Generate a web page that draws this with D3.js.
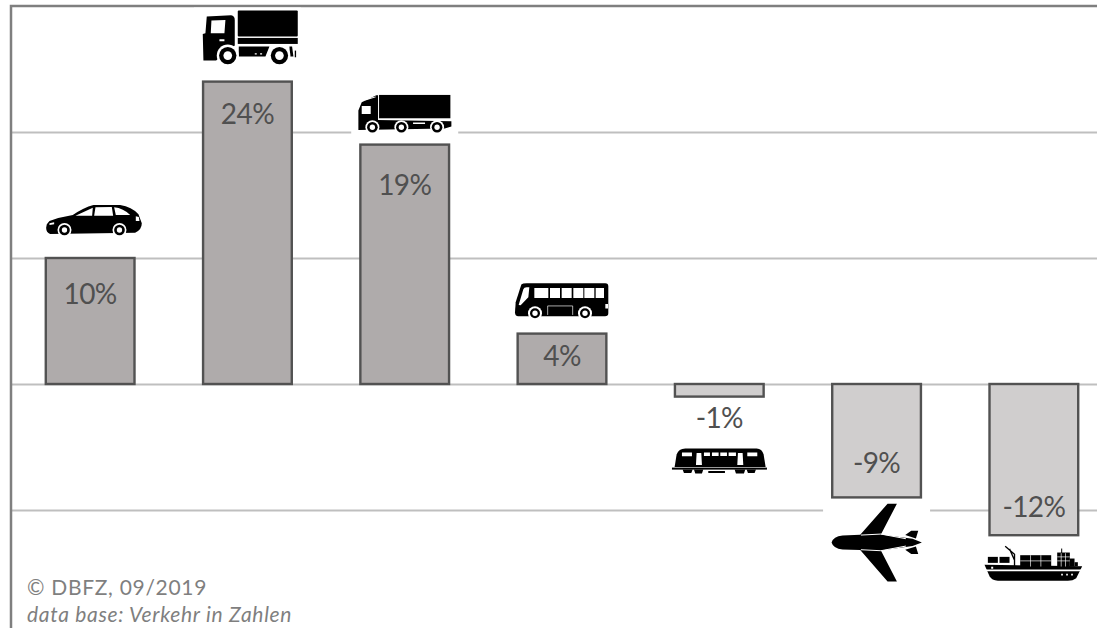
<!DOCTYPE html>
<html>
<head>
<meta charset="utf-8">
<script src="https://cdn.jsdelivr.net/npm/d3@7"></script>
<style>
  html, body { margin: 0; padding: 0; background: #fff; }
  svg { display: block; }
  text { font-family: Lato, "Open Sans", sans-serif; }
</style>
</head>
<body>
<div id="chart"></div>
<script>
// Change in transport modes, in percent
const categories = ["car", "truck", "lorry", "bus", "train", "plane", "ship"];
const values = [10, 24, 19, 4, -1, -9, -12];
const gridTicks = [-10, 0, 10, 20];
const sourceLines = ["© DBFZ, 09/2019", "data base: Verkehr in Zahlen"];

// Label baseline and icon edge, as pixel distance from the free end of each bar
const labelOffsets = [46, 42, 50, 32, 31, -24, -18];
const iconGaps = [21, 18, 12, 15, 49, 6, 8];
const iconHeights = [34, 56, 46, 36, 30, 78, 38];

// Vehicle silhouettes, drawn at 3x and scaled down; origin given by ox / oy
const icons = {
  car: { ox: 180, oy: 126, art: `
    <path d="M50,88 L58,78 Q90,66 128,60 Q160,38 190,30 L270,30 Q305,35 325,58 L335,85 Q335,105 315,113 L60,117 Q48,112 48,98 Z"/>
    <path fill="#fff" d="M136,62 L188,38 L186,62 Z M196,37 L245,36 L249,62 L192,62 Z M252,37 Q280,40 300,60 L257,60 Z M317,64 L326,66 L328,78 L317,78 Z M58,85 L72,82 L72,88 L58,90 Z"/>
    <circle cx="103" cy="105" r="21" fill="#fff"/><circle cx="103" cy="105" r="16"/><circle cx="103" cy="105" r="8" fill="#fff"/>
    <circle cx="268" cy="105" r="21" fill="#fff"/><circle cx="268" cy="105" r="16"/><circle cx="268" cy="105" r="8" fill="#fff"/>` },
  truck: { ox: 174, oy: 189, art: `
    <path d="M52,48 L125,44 Q136,46 136,58 L136,135 L80,180 L42,180 L40,100 L48,98 Z"/>
    <rect x="145" y="30" width="180" height="78" rx="3"/>
    <rect x="145" y="112" width="180" height="18"/>
    <path d="M148,138 L240,138 L228,168 L148,168 Z M300,138 L308,138 L312,168 L302,168 Z"/>
    <path fill="#fff" d="M66,60 L108,58 L105,98 L64,98 Z M90,116 L105,116 L105,122 L90,122 Z M196,158 h6 v4 h-6 Z M212,158 h6 v4 h-6 Z"/>
    <circle cx="115" cy="165" r="33" fill="#fff"/><circle cx="115" cy="165" r="26"/><circle cx="115" cy="165" r="13" fill="#fff"/>
    <circle cx="270" cy="165" r="33" fill="#fff"/><circle cx="270" cy="165" r="26"/><circle cx="270" cy="165" r="13" fill="#fff"/>
    <rect x="316" y="150" width="4" height="20"/>` },
  lorry: { ox: 1215, oy: 396, art: `
    <path d="M1076,330 L1086,305 L1130,284 L1135,284 L1135,358 L1355,362 L1355,378 L1335,384 L1076,388 Z"/>
    <rect x="1138" y="283" width="214" height="70"/>
    <path fill="#fff" d="M1086,316 L1113,316 L1113,340 L1086,340 Z M1097,295 L1128,288 L1128,290 L1097,300 Z M1240,366 h36 v4 h-36 Z"/>
    <circle cx="1118" cy="380" r="21" fill="#fff"/><circle cx="1118" cy="380" r="16"/><circle cx="1118" cy="380" r="8" fill="#fff"/>
    <circle cx="1205" cy="380" r="21" fill="#fff"/><circle cx="1205" cy="380" r="16"/><circle cx="1205" cy="380" r="8" fill="#fff"/>
    <circle cx="1312" cy="380" r="21" fill="#fff"/><circle cx="1312" cy="380" r="16"/><circle cx="1312" cy="380" r="8" fill="#fff"/>` },
  bus: { ox: 186, oy: 144, art: `
    <path d="M64,42 Q68,38 80,38 L316,38 Q325,38 325,48 L325,128 Q325,137 315,137 L55,137 Q45,137 45,125 L47,95 Z"/>
    <path fill="#fff" d="M103,52 H145 V82 H103 Z M150,52 H180 V82 H150 Z M185,52 H215 V82 H185 Z M220,52 H250 V82 H220 Z M253,52 H283 V82 H253 Z M287,52 H312 V82 H287 Z M56,103 L70,56 Q72,50 80,50 L88,50 L85,80 L62,104 Z M316,100 h8 v14 h-8 Z"/>
    <path fill="none" stroke="#fff" stroke-width="2" d="M143,133 V106 H218 V133"/>
    <circle cx="105" cy="128" r="21" fill="#fff"/><circle cx="105" cy="128" r="15"/><circle cx="105" cy="128" r="8" fill="#fff"/>
    <circle cx="255" cy="128" r="21" fill="#fff"/><circle cx="255" cy="128" r="15"/><circle cx="255" cy="128" r="8" fill="#fff"/>` },
  train: { ox: 658, oy: 618, art: `
    <path d="M524,592 L530,555 Q536,537 556,537 L770,537 Q786,537 791,555 L797,592 Z"/>
    <rect x="516" y="594" width="285" height="6"/>
    <path d="M548,600 h30 l-4,10 h-22 Z M582,600 h28 l-4,12 h-20 Z M704,600 h32 l-4,12 h-24 Z M740,600 h28 l-4,10 h-20 Z M625,604 h50 v6 h-50 Z"/>
    <path fill="#fff" d="M546,549 H576 V560 H546 Z M612,549 H630 V559 H612 Z M636,549 H656 V559 H636 Z M661,549 H681 V559 H661 Z M686,549 H708 V559 H686 Z M742,549 H772 V560 H742 Z M590,550 H604 L606,586 H588 Z M714,550 H728 L730,586 H712 Z"/>` },
  plane: { ox: 232, oy: 633, art: `
    <path d="M97,516 Q102,498 130,495 L183,493 L265,400 L293,400 L245,492 L340,505 L368,516 L340,527 L245,540 L293,633 L265,633 L183,539 L130,537 Q102,534 97,516 Z"/>
    <path d="M318,494 L336,481 L357,481 L350,504 Z M318,538 L336,551 L357,551 L350,528 Z"/>
    <path fill="none" stroke="#fff" stroke-width="3" d="M185,494 L245,491 L320,505 M185,538 L245,541 L320,527"/>` },
  ship: { ox: 698, oy: 633, art: `
    <path d="M550,584 L843,588 L825,624 Q815,632 800,632 L590,632 Q572,630 565,618 Z"/>
    <path fill="none" stroke="#000" stroke-width="4" d="M612,528 L640,552 L640,590 M625,536 L640,570"/>
    <rect x="560" y="560" width="30" height="18"/><rect x="595" y="560" width="30" height="18"/>
    <rect x="657" y="555" width="93" height="34"/>
    <rect x="768" y="547" width="38" height="42"/><rect x="806" y="565" width="14" height="24"/><rect x="820" y="576" width="10" height="12"/>
    <rect x="780" y="535" width="3" height="14"/>
    <path fill="none" stroke="#fff" stroke-width="2" d="M657,572 H750 M688,555 V589 M719,555 V589 M768,560 H806 M768,572 H806 M780,549 V589 M793,549 V589"/>
    <path fill="#fff" d="M552,598 H843 V603 H552 Z M780,611 h5 v5 h-5 Z M795,611 h5 v5 h-5 Z M810,611 h5 v5 h-5 Z M570,590 h6 v6 h-6 Z"/>` }
};

const width = 1097, height = 628;
const svg = d3.select("#chart").append("svg").attr("width", width).attr("height", height);

// The plot runs a little past the right side of the page
const x = d3.scaleBand().domain(categories).range([11.5, 1112.5]).paddingInner(0.436).paddingOuter(0.218);
const y = d3.scaleLinear().domain([0, 10]).range([384, 258]);
const value = c => values[categories.indexOf(c)];

// Horizontal gridlines
const grid = svg.append("g")
  .attr("transform", `translate(${x.range()[0]},0)`)
  .call(d3.axisLeft(y).tickValues(gridTicks).tickSize(-width).tickFormat(""));
grid.select(".domain").remove();
grid.selectAll(".tick line").attr("stroke", "#bfbfbf").attr("stroke-width", 2);

// Frame: top and left only
svg.append("path")
  .attr("d", d3.line()([[11, height], [11, y(30)], [width, y(30)]]))
  .attr("fill", "none").attr("stroke", "#7f7f7f").attr("stroke-width", 2.5);

// Bars, darker above zero and lighter below
svg.append("g").selectAll("rect").data(categories).join("rect")
  .attr("x", d => x(d))
  .attr("y", d => Math.min(y(0), y(value(d))))
  .attr("width", x.bandwidth())
  .attr("height", d => Math.abs(y(value(d)) - y(0)))
  .attr("fill", d => value(d) >= 0 ? "#afabab" : "#d0cece")
  .attr("stroke", "#525252")
  .attr("stroke-width", 2.4);

// Value labels
svg.append("g").selectAll("text").data(categories).join("text")
  .attr("x", d => x(d) + x.bandwidth() / 2)
  .attr("y", (d, i) => y(value(d)) + labelOffsets[i])
  .attr("text-anchor", "middle")
  .attr("font-size", 28)
  .attr("letter-spacing", -0.6)
  .attr("fill", "#505050")
  .text(d => `${value(d)}%`);

// Icons sit on a white backing box that interrupts the gridlines
const icon = svg.append("g").selectAll("g").data(categories).join("g")
  .attr("transform", (d, i) => {
    const end = y(value(d));
    const bottom = value(d) >= 0 ? end - iconGaps[i] : end + iconGaps[i] + iconHeights[i];
    return `translate(${x(d) + x.bandwidth() / 2},${bottom})`;
  });
icon.append("rect")
  .attr("x", -53.5)
  .attr("y", (d, i) => -iconHeights[i] - (d === "truck" ? 0 : 4))
  .attr("width", 107)
  .attr("height", (d, i) => iconHeights[i] + (d === "truck" ? 6 : 8))
  .attr("fill", "#fff");
icon.append("g")
  .attr("transform", d => `scale(${1 / 3}) translate(${-icons[d].ox},${-icons[d].oy})`)
  .attr("fill", "#000")
  .html(d => icons[d].art);

// Source note
svg.append("g").selectAll("text").data(sourceLines).join("text")
  .attr("x", 27)
  .attr("y", (d, i) => 595 + i * 27)
  .attr("font-size", 21)
  .attr("letter-spacing", 0.7)
  .attr("font-style", (d, i) => i ? "italic" : "normal")
  .attr("fill", "#7f7f7f")
  .text(d => d);
</script>
</body>
</html>
